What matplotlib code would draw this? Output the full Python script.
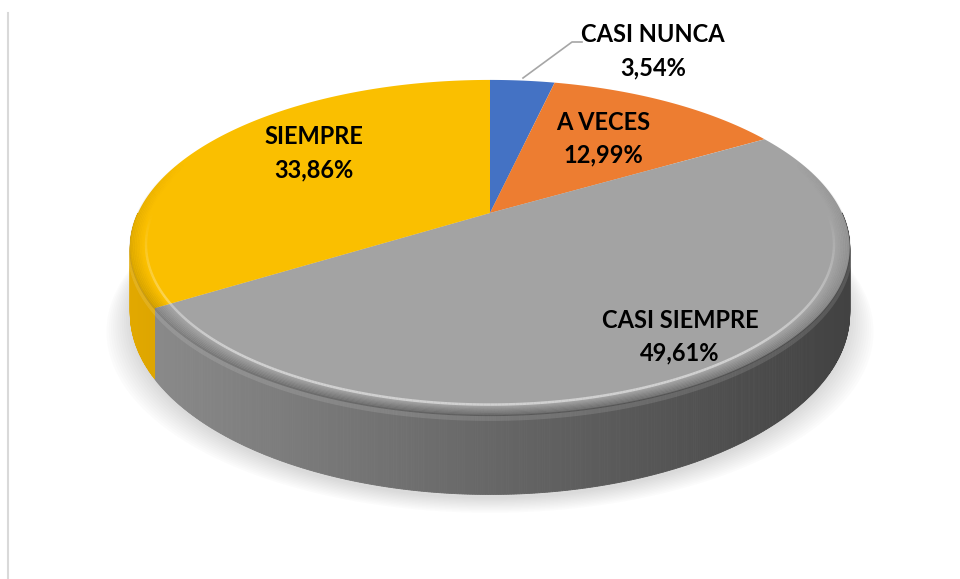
import numpy as np
import matplotlib
matplotlib.use("Agg")
import matplotlib.pyplot as plt
import matplotlib.transforms as mtransforms
from matplotlib.path import Path
from matplotlib.lines import Line2D
from matplotlib.patches import Polygon
from matplotlib.collections import LineCollection
import matplotlib.colors as mcolors

categories = ["CASI NUNCA", "A VECES", "CASI SIEMPRE", "SIEMPRE"]
values = [3.54, 12.99, 49.61, 33.86]
pct_labels = ["3,54%", "12,99%", "49,61%", "33,86%"]
colors = ["#4472C4", "#ED7D31", "#A3A3A3", "#FABF00"]
side_colors = ["#2F528F", "#AE5A21", "#676767", "#A67C00"]

W, H = 960, 579
CX, CY = 490, 213        # pixel position of the pie centre
A, B, K = 352, 160.5, 0.206   # perspective projection parameters
DEPTH = 63

class Persp(mtransforms.Transform):
    input_dims = 2
    output_dims = 2
    is_separable = False
    has_inverse = False

    def transform_non_affine(self, values):
        v = np.asarray(values, float).reshape(-1, 2)
        x, y = v[:, 0], v[:, 1]
        w = 1 + K * y
        return np.column_stack([CX + A * x / w, CY - B * y / w])

    def transform_path_non_affine(self, path):
        pts = []
        for seg, code in path.iter_bezier():
            if code == Path.MOVETO:
                continue
            ts = np.linspace(0, 1, 40)
            pts.append(seg(ts))
        if not pts:
            return path
        verts = np.concatenate(pts)
        return Path(self.transform_non_affine(verts))

P = Persp()

def proj(x, y):
    return P.transform_non_affine(np.column_stack([x, y]))

fig = plt.figure(figsize=(W / 100, H / 100), dpi=100)
fig.patch.set_facecolor("white")
ax = fig.add_axes([0, 0, 1, 1])

wedges, _ = ax.pie(values, colors=colors, startangle=90, counterclock=False,
                   radius=1.0, center=(0, 0),
                   wedgeprops=dict(linewidth=0, edgecolor="none"))
for w in wedges:
    w.set_transform(P + ax.transData)
    w.set_zorder(5)
    w.set_antialiased(True)

# soft shadow under the disc
t_all = np.deg2rad(np.linspace(0, 360, 721))
pts = proj(np.cos(t_all), np.sin(t_all))
wv = 1 + K * np.sin(t_all)
for i in range(12):
    g = 1 + 0.006 * i
    xs = CX + (pts[:, 0] - CX) * g
    ys = pts[:, 1] + DEPTH / wv + 4 + 1.3 * i
    ax.add_patch(Polygon(np.column_stack([xs, ys]), closed=True, facecolor="#7f7f7f",
                         edgecolor="none", alpha=0.022, zorder=1))

# side of the disc built from each wedge's angle range
for w, sc in zip(wedges, side_colors):
    t1, t2 = w.theta1, w.theta2
    angs = np.linspace(t1, t2, max(int((t2 - t1) * 3), 2))
    base = np.array(mcolors.to_rgb(sc))
    for a0, a1 in zip(angs[:-1], angs[1:]):
        am = np.deg2rad((a0 + a1) / 2)
        if np.sin(am) > 0.0:
            continue
        r = np.deg2rad([a0, a1])
        top = proj(np.cos(r), np.sin(r))
        off = DEPTH / (1 + K * np.sin(r))
        s = (top.mean(axis=0)[0] - CX) / 360.0
        c = np.clip(base * (1 - 0.36 * s), 0, 1)
        lift = 2.0 if np.sin(am) < -0.3 else 0.0
        poly = [top[0] - [0, lift], top[1] - [0, lift],
                top[1] + [0, off[1]], top[0] + [0, off[0]]]
        ax.add_patch(Polygon(poly, closed=True, facecolor=c, edgecolor=c,
                             linewidth=0.6, zorder=3))

def arc_collection(r, t_deg, rgb, alphas, lw, z, dy=0.0):
    t = np.deg2rad(t_deg)
    p = proj(r * np.cos(t), r * np.sin(t)) + [0, dy]
    segs = np.stack([p[:-1], p[1:]], axis=1)
    am = (alphas[:-1] + alphas[1:]) / 2
    cols = np.column_stack([np.tile(mcolors.to_rgb(rgb), (len(segs), 1)), am])
    lc = LineCollection(segs, colors=cols, linewidths=lw, zorder=z, capstyle="butt")
    ax.add_collection(lc)

# bevel: darkening toward the rim of the top surface
tb = np.linspace(-200, 40, 500)
fade = np.clip(0.35 - np.sin(np.deg2rad(tb)), 0, 1.35) / 1.35
for r, a in zip(np.linspace(0.968, 1.0, 8), np.linspace(0.02, 0.22, 8)):
    arc_collection(r, tb, "black", a * fade, 1.4, 6)
# highlight line just inside the rim
tl = np.linspace(-195, 0, 400)
fl = np.clip(-np.sin(np.deg2rad(tl)) * 1.3, 0, 1)
arc_collection(0.958, tl, "white", 0.50 * fl, 1.8, 6.5)
# light band just under the rim on the side
ts = np.linspace(-192, -2, 400)
fs = np.clip(-np.sin(np.deg2rad(ts)) * 2 + 0.3, 0, 1)
arc_collection(1.0, ts, "white", 0.12 * fs, 4, 4, dy=3)

# leader line for CASI NUNCA
ax.plot([523, 572, 582], [78, 42, 42], color="#A6A6A6", lw=1.2, zorder=7)

# labels
label_pos = [(653, 35), (603, 122), (680, 320), (314, 137)]
for name, pct, (x, y) in zip(categories, pct_labels, label_pos):
    ax.text(x, y, name, ha="center", va="center", fontsize=17, fontweight="bold",
            family=["Lato", "DejaVu Sans"], color="#000000", zorder=8)
    ax.text(x, y + 33, pct, ha="center", va="center", fontsize=17, fontweight="bold",
            family=["Lato", "DejaVu Sans"], color="#000000", zorder=8)

ax.set_aspect("auto")
ax.set_xlim(0, W)
ax.set_ylim(H, 0)
ax.axis("off")

fig.add_artist(Line2D([7.5 / W, 7.5 / W], [0, 1 - 13 / H], transform=fig.transFigure,
                      color="#D9D9D9", lw=1.5))

fig.savefig("out.png", dpi=100, facecolor="white")
